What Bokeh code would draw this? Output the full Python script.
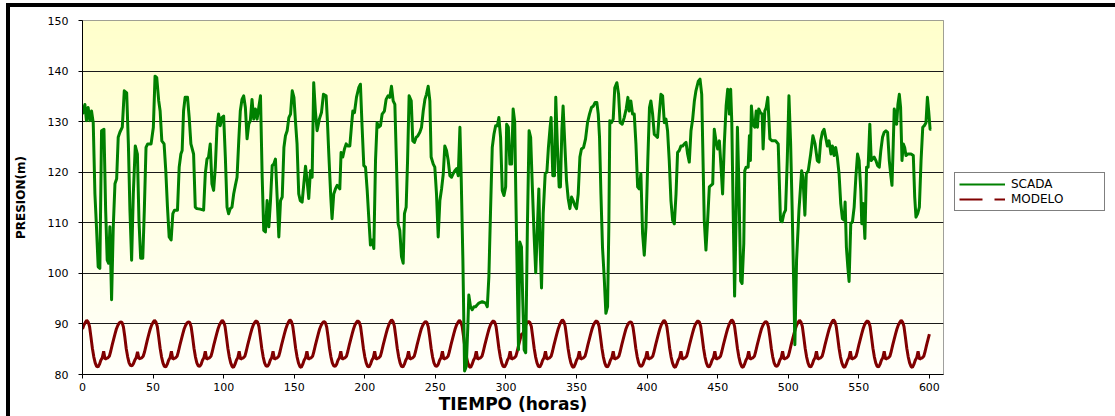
import numpy as np
from bokeh.plotting import figure
from bokeh.layouts import row
from bokeh.models import Legend, LegendItem, FixedTicker, Range1d
from bokeh.embed import file_html
from bokeh.resources import INLINE

# ---------------- data ----------------
X_TICKS = list(range(0, 601, 50))
Y_TICKS = list(range(80, 151, 10))
X_MIN, X_MAX = 0, 610
Y_MIN, Y_MAX = 80, 150

SCADA_H = [
    0, 1.7, 2.8, 4, 5.2, 6.4, 7.6, 8.8, 9.9, 11.1, 12.3, 13.5, 15.2, 16.4, 17.5, 18.5, 19.4, 20.6, 21.8, 23,
    24.2, 25.3, 26.5, 28.2, 29.6, 31.3, 32.5, 33.6, 34.8, 36, 37.4, 38.9, 40, 41.2, 42.7, 43.8, 45, 46.2, 48.6,
    50.2, 51.4, 52.6, 54, 55, 56.2, 57.8, 59, 60.2, 61.4, 62.8, 64, 65.2, 67.3, 68.5, 69.7, 70.6, 71.6, 72.7,
    74.4, 75.6, 76.8, 78.7, 79.9, 81, 83.4, 85.8, 87, 88.2, 89.3, 90.5, 91.7, 92.9, 94.1, 95.3, 96.4, 97.6,
    98.8, 100, 101.2, 102.4, 103.5, 104.7, 105.9, 107.1, 108.3, 109.5, 110.7, 111.8, 113, 114.2, 115.4, 116.6,
    117.8, 118.9, 120.1, 121.3, 122.5, 123.7, 124.9, 126.1, 127.3, 128.4, 129.6, 130.8, 132, 133.2, 134.4,
    135.5, 136.7, 137.9, 139.1, 140.3, 141.5, 142.7, 143.8, 145, 146.2, 147.4, 148.6, 149.8, 150.9, 152, 153.2,
    154.3, 155.6, 156.8, 158, 159.1, 160.3, 161.5, 162.7, 163.8, 165, 166.2, 167.8, 169.3, 170.7, 172.6, 173.5,
    174.5, 175.9, 176.8, 178, 179.2, 180.4, 182.3, 183.2, 184.4, 185.6, 186.8, 187.9, 189.4, 190.5, 191.5,
    192.7, 194.1, 195.7, 196.9, 198.1, 199.3, 200.5, 201.7, 202.8, 204, 205.2, 206.4, 207.6, 208.7, 209.9,
    211.1, 212.3, 213.9, 215.1, 216.5, 217.7, 218.9, 220.1, 221.3, 222.4, 223.6, 224.8, 226, 227.2, 228.1,
    229.3, 230.3, 231.4, 232.9, 234, 235.2, 236.4, 237.6, 239, 240.2, 241.4, 242.6, 243.7, 244.9, 246.1, 247,
    248.5, 249.6, 250.8, 252, 253.2, 254.4, 255.6, 256.7, 257.9, 259.1, 260.3, 261.5, 262.6, 263.8, 265, 266.2,
    267.4, 268.3, 269.5, 270.7, 271.9, 273, 273.7, 274.9, 276.1, 277.3, 278.5, 279.7, 280.8, 283.2, 285.6,
    286.8, 287.9, 289.1, 290.3, 291.5, 292.7, 293.9, 295, 296.2, 297.4, 298.6, 299.8, 300.5, 301.7, 302.8, 304,
    305.1, 306.2, 307, 308.2, 308.9, 309.8, 311, 311.9, 312.9, 314, 315.2, 316.4, 317.5, 318.7, 319.9, 321.1,
    322.3, 323.3, 324.2, 325.2, 326.4, 327.8, 329, 330.1, 331.3, 332, 333.2, 334.4, 335.3, 336.5, 337.7, 338.6,
    339.6, 340.5, 341.7, 342.9, 344.1, 345.3, 346.5, 347.6, 348.8, 350, 351.2, 352.4, 353.5, 355, 356.4, 357.8,
    359.2, 360.6, 362, 363.2, 364.4, 365.4, 366.3, 367.3, 368.4, 369.6, 370.8, 372, 372.9, 373.6, 374.8, 376,
    377.1, 378.6, 379.8, 380.9, 382.4, 383.8, 385.2, 386.4, 387.3, 388.5, 389.7, 390.9, 392.1, 393.3, 394.4,
    395.6, 396.8, 398, 399.2, 400.5, 401.7, 402.7, 403.9, 405.1, 406.3, 407.4, 408.6, 409.8, 411, 412.2, 413.4,
    414.5, 415.7, 416.9, 418.1, 419.3, 420.5, 421.6, 422.8, 424, 425.2, 426.4, 427.6, 428.7, 429.9, 431.1,
    432.3, 433.5, 434.6, 436.3, 437.5, 438.7, 439.4, 440.5, 441.7, 442.9, 444.1, 445.3, 446.5, 447.6, 448.8,
    450, 451.2, 452.4, 453.5, 454.7, 456, 457.1, 458.3, 459.2, 460, 461, 462, 463, 464, 465, 466.3, 467.3,
    468.5, 469.2, 470.1, 471.6, 472.5, 473.2, 473.9, 474.9, 476.3, 477.3, 478.2, 479.1, 480.3, 481.5, 482.2,
    483.4, 484.4, 485.5, 487, 488.6, 491, 492.9, 494.5, 495.7, 496.9, 498.1, 499.3, 500.5, 501.7, 502.8, 504,
    504.7, 505.9, 507.6, 509.5, 510.4, 511.8, 512.8, 514.2, 515.9, 517.5, 519, 520.6, 521.8, 523, 524.2, 525.4,
    526.5, 527.7, 528.9, 530.3, 531.3, 532.5, 533.6, 534.8, 536, 537.2, 538.4, 539.6, 540.3, 541.2, 542.2,
    543.1, 544.3, 545.5, 546.7, 547.9, 549.1, 550.2, 551.4, 552.1, 553.1, 554.3, 555.5, 556.6, 557.8, 558.8,
    559.7, 560.9, 562.1, 563.3, 564.5, 565.6, 566.8, 568, 569.2, 570.4, 571.6, 572.7, 573.5, 574.4, 575.1,
    575.8, 576.8, 577.7, 578.7, 579.6, 580.6, 581.5, 582.5, 583.4, 584.6, 587, 588.6, 589.6, 590.5, 591.7,
    592.9, 594.1, 595.3, 596.4, 597.6, 598.6, 599.5, 600.5, 601.4,
]
SCADA_V = [
    131.5, 133.4, 130.2, 132.8, 130.2, 132.1, 129.8, 115.7, 109.2, 101.3, 101, 128.2, 128.5, 112.5, 102.6, 102, 109.2, 94.8, 109.2, 117.7,
    118.7, 126.9, 127.9, 128.9, 136.1, 135.7, 125.6, 112.5, 102.6, 115.7, 125.2, 123.6, 110.5, 103, 103, 112.5, 124.9, 125.6, 125.6,
    128.9, 139, 138.7, 134.1, 132.1, 126.2, 125.6, 120.3, 113.1, 107.2, 106.6, 111.8, 112.5, 112.5, 121, 123.6, 124.3, 132.1, 134.8,
    134.8, 130.8, 125.6, 123.6, 113.1, 112.8, 112.7, 112.5, 119.7, 122.6, 123, 125.6, 117.7, 116.4, 121, 128.9, 131.5, 129.2,
    130.8, 131.1, 123, 113.1, 111.8, 112.8, 113.1, 115.7, 117.4, 119, 126.2, 132.1, 134.4, 135.1, 132.8, 126.6,
    129.5, 130.2, 134.4, 130.5, 132.5, 130.5, 132.8, 135.1, 119, 108.5, 108.2, 114.4, 109.2, 114.4, 121.3,
    121.6, 122.6, 115.1, 107.2, 114.4, 115.1, 124.9, 127.2, 128.2, 130.8, 131.5, 136.1, 134.8, 130, 125.6, 115.7,
    114.4, 114.1, 117.7, 121.2, 118.4, 114.8, 120.3, 119, 137.7, 132.1, 128.2, 130.5, 131.8, 135.4, 135.1, 130.2,
    123.6, 115.1, 110.8, 115.7, 116.7, 117.4, 116.7, 123.9, 123, 124.6, 125.6, 125.2, 125.2, 128.9, 132.1,
    131.8, 134.8, 136.7, 137.4, 128.9, 121.3, 121, 116.4, 111.1, 105.6, 106.6, 104.9, 122.3, 129.8, 128.9,
    129.2, 131.5, 132.1, 134.4, 135.1, 134.8, 137, 134.1, 133.4, 122.3, 109.8, 108.5, 103.3, 102, 111.8,
    113.1, 122.3, 135.1, 134.1, 126.2, 125.9, 126.9, 127.2, 127.9, 128.9, 132.1, 134.4, 135.4, 137, 134.1, 123,
    121.6, 121, 115.7, 107.2, 114.4, 116.7, 119.7, 125.2, 124.3, 122.3, 119.3, 119, 119.7, 120.3, 120.7, 119.3,
    128.9, 119, 102.6, 80.7, 81.6, 89.5, 95.7, 93.4, 92.8, 93.4, 93.4, 93.8, 94.1, 94.4, 94.1,
    93.4, 99.3, 112.5, 124.9, 127.5, 129.2, 129.2, 130.8, 126.9, 116.4, 115.4, 117.1, 129.5, 128.9, 121.6, 121.6,
    132.5, 130, 115.7, 96, 84.9, 106.2, 105.2, 94.8, 84.9, 84.3, 109.2, 128.2, 126.9, 117.1, 107.9, 100.1,
    109.2, 116.7, 105.2, 97.1, 111.8, 119.7, 120, 124.9, 128.9, 130.8, 119.3, 119.3, 134.8, 124.9, 117.1, 117.1,
    128.2, 133.1, 125.6, 118.4, 114.8, 112.8, 115.1, 114.4, 113.4, 112.8, 115.7, 123, 124.6, 124.9, 126.6, 129.8,
    131.5, 132.8, 133.1, 133.8, 133.8, 131.5, 126.9, 115.7, 105.2, 99.3, 92.1, 93.4, 109.2, 130.2, 129.8, 130.5,
    136.7, 137.7, 135.4, 129.8, 129.5, 130.8, 132.5, 134.8, 132.1, 134.1, 131.5, 131.5, 125.6, 117.1, 116.7,
    119.7, 107.9, 103.6, 109.2, 122.3, 132.8, 134.1, 131.5, 127.5, 127.2, 126.9, 131.5, 135.4, 135.1, 129.8, 130.5,
    128.2, 122.3, 114.4, 110.5, 109.8, 115.7, 123.9, 124.3, 125.2, 125.2, 125.6, 125.9, 123.6, 122, 128.2,
    130.5, 134.1, 136.1, 138, 138.4, 135.4, 125.6, 110.5, 104.6, 110.5, 117.1, 117.4, 117.7, 128.5, 126.2,
    124.6, 126.2, 121, 115.7, 125.6, 133.1, 136.4, 131.5, 136.4, 130, 112, 95.5, 110, 128.9, 118, 98.5, 98,
    105.9, 120.3, 121, 121, 127.2, 122.3, 133.1, 129.5, 128.9, 132.1, 128.9, 132.5, 131.8, 131.5, 124.6,
    132.1, 132.8, 134.8, 126.6, 126.2, 126.2, 125.6, 110.5, 110.2, 111.8, 112.5, 122.3, 135.1, 125.6, 112.5, 96.1,
    85.9, 102.6, 112.5, 120.3, 119, 111.5, 119.7, 120.3, 123.6, 127.2, 125.6, 122.3, 122, 126.2, 127.9, 128.5,
    126.9, 125.2, 126.2, 123.6, 125.2, 123.3, 124.9, 122.9, 119.7, 113.8, 110.8, 110.5, 114.1, 105.2, 101.3,
    98.4, 109.8, 110.2, 113.1, 119, 123.6, 122.3, 116.4, 109.8, 113.8, 106.9, 121, 121, 129.5, 122.3,
    122.6, 123, 122.3, 121.3, 121, 124.3, 126.9, 127.9, 128.2, 127.9, 122.3, 119.3, 117.4, 125.6, 132.5,
    131.5, 129.5, 133.4, 135.4, 132.8, 122.3, 125.6, 124.9, 123.3, 123.6, 123.6, 123.3, 115.1, 111.1, 111.8,
    113.1, 122.3, 128.9, 129.2, 129.8, 134.8, 132.1, 128.5, 128.5,
]

# MODELO: one row per day (24 hourly values)
MODELO_DAYS = [
    [89.0, 89.8, 90.3, 90.7, 90.4, 89.5, 87.4, 85.2, 83.5, 82.3, 81.6, 81.5, 82.0, 82.8, 83.3, 84.6, 83.0, 83.2, 83.3, 83.6, 84.6, 85.8, 86.9, 88.0],
    [89.0, 89.7, 90.2, 90.4, 90.3, 89.4, 87.4, 85.1, 83.5, 82.3, 81.8, 81.7, 82.1, 82.8, 83.3, 84.5, 83.1, 83.2, 83.3, 83.6, 84.5, 85.7, 86.9, 88.0],
    [89.0, 89.8, 90.3, 90.7, 90.4, 89.5, 87.4, 85.2, 83.5, 82.3, 81.6, 81.5, 82.0, 82.8, 83.3, 84.6, 83.0, 83.2, 83.3, 83.6, 84.6, 85.8, 86.9, 88.0],
    [89.0, 89.7, 90.2, 90.4, 90.3, 89.4, 87.4, 85.2, 83.5, 82.3, 81.7, 81.6, 82.0, 82.8, 83.3, 84.6, 83.0, 83.2, 83.3, 83.6, 84.6, 85.8, 86.9, 88.0],
    [89.0, 89.8, 90.3, 90.7, 90.4, 89.5, 87.4, 85.2, 83.5, 82.3, 81.6, 81.4, 82.0, 82.8, 83.3, 84.6, 83.0, 83.2, 83.3, 83.6, 84.6, 85.8, 86.9, 88.0],
    [89.0, 89.8, 90.3, 90.6, 90.4, 89.5, 87.4, 85.2, 83.5, 82.3, 81.7, 81.6, 82.0, 82.8, 83.3, 84.6, 83.0, 83.2, 83.3, 83.6, 84.6, 85.8, 86.9, 88.0],
    [89.0, 89.8, 90.4, 90.8, 90.5, 89.5, 87.4, 85.2, 83.5, 82.3, 81.6, 81.4, 82.0, 82.8, 83.3, 84.6, 83.0, 83.2, 83.3, 83.6, 84.6, 85.8, 86.9, 88.0],
    [89.0, 89.7, 90.2, 90.5, 90.3, 89.4, 87.4, 85.2, 83.5, 82.3, 81.7, 81.6, 82.0, 82.8, 83.3, 84.6, 83.0, 83.2, 83.3, 83.6, 84.6, 85.8, 86.9, 88.0],
    [89.0, 89.8, 90.3, 90.6, 90.4, 89.5, 87.4, 85.2, 83.5, 82.3, 81.6, 81.5, 82.0, 82.8, 83.3, 84.6, 83.0, 83.2, 83.3, 83.6, 84.6, 85.8, 86.9, 88.0],
    [89.0, 89.8, 90.4, 90.8, 90.5, 89.5, 87.4, 85.2, 83.5, 82.3, 81.6, 81.5, 82.0, 82.8, 83.3, 84.6, 83.0, 83.2, 83.3, 83.6, 84.6, 85.8, 86.9, 88.0],
    [89.0, 89.7, 90.2, 90.5, 90.3, 89.4, 87.4, 85.2, 83.5, 82.3, 81.7, 81.6, 82.0, 82.8, 83.3, 84.6, 83.0, 83.2, 83.3, 83.6, 84.6, 85.8, 86.9, 88.0],
    [89.0, 89.8, 90.3, 90.7, 90.4, 89.5, 87.4, 85.2, 83.5, 82.3, 81.6, 81.4, 82.0, 82.8, 83.3, 84.6, 83.0, 83.2, 83.3, 83.6, 84.6, 85.8, 86.9, 88.0],
    [89.0, 89.8, 90.3, 90.6, 90.4, 89.5, 87.4, 85.2, 83.5, 82.3, 81.6, 81.5, 82.0, 82.8, 83.3, 84.6, 83.0, 83.2, 83.3, 83.6, 84.6, 85.8, 86.9, 88.0],
    [88.0, 89.0, 89.8, 90.3, 90.5, 90.3, 89.5, 87.4, 85.2, 83.5, 82.3, 81.6, 81.5, 82.0, 82.8, 83.3, 84.6, 83.0, 83.2, 83.3, 83.6, 84.6, 85.8, 86.9],
    [88.0, 89.0, 89.8, 90.4, 90.8, 90.5, 89.5, 87.4, 85.2, 83.5, 82.3, 81.6, 81.4, 82.0, 82.8, 83.3, 84.6, 83.0, 83.2, 83.3, 83.6, 84.6, 85.8, 86.9],
    [88.0, 89.0, 89.8, 90.3, 90.6, 90.4, 89.5, 87.4, 85.2, 83.5, 82.3, 81.6, 81.5, 82.0, 82.8, 83.3, 84.6, 83.0, 83.2, 83.3, 83.6, 84.6, 85.8, 86.9],
    [88.0, 89.0, 89.7, 90.2, 90.4, 90.3, 89.4, 87.4, 85.2, 83.5, 82.3, 81.7, 81.6, 82.0, 82.8, 83.3, 84.6, 83.0, 83.2, 83.3, 83.6, 84.6, 85.8, 86.9],
    [88.0, 89.0, 89.8, 90.3, 90.7, 90.4, 89.5, 87.4, 85.2, 83.5, 82.3, 81.6, 81.4, 82.0, 82.8, 83.3, 84.6, 83.0, 83.2, 83.3, 83.6, 84.6, 85.8, 86.9],
    [88.0, 89.0, 89.8, 90.3, 90.6, 90.4, 89.5, 87.4, 85.2, 83.5, 82.3, 81.6, 81.5, 82.0, 82.8, 83.3, 84.6, 83.0, 83.2, 83.3, 83.6, 84.6, 85.8, 86.9],
    [88.0, 89.0, 89.8, 90.4, 90.8, 90.5, 89.5, 87.4, 85.2, 83.5, 82.3, 81.6, 81.4, 82.0, 82.8, 83.3, 84.6, 83.0, 83.2, 83.3, 83.6, 84.6, 85.8, 86.9],
    [88.0, 89.0, 89.7, 90.2, 90.5, 90.3, 89.4, 87.4, 85.2, 83.5, 82.3, 81.7, 81.6, 82.0, 82.8, 83.3, 84.6, 83.0, 83.2, 83.3, 83.6, 84.6, 85.8, 86.9],
    [88.0, 89.0, 89.8, 90.3, 90.7, 90.4, 89.5, 87.4, 85.2, 83.5, 82.3, 81.6, 81.5, 82.0, 82.8, 83.3, 84.6, 83.0, 83.2, 83.3, 83.6, 84.6, 85.8, 86.9],
    [88.0, 89.0, 89.8, 90.4, 90.8, 90.5, 89.5, 87.4, 85.2, 83.5, 82.3, 81.6, 81.4, 82.0, 82.8, 83.3, 84.6, 83.0, 83.2, 83.3, 83.6, 84.6, 85.8, 86.9],
    [88.0, 89.0, 89.8, 90.3, 90.6, 90.4, 89.5, 87.4, 85.2, 83.5, 82.3, 81.6, 81.5, 82.0, 82.8, 83.3, 84.6, 83.0, 83.2, 83.3, 83.6, 84.6, 85.8, 86.9],
    [88.0, 89.0, 89.8, 90.3, 90.7, 90.4, 89.5, 87.4, 85.2, 83.5, 82.3, 81.6, 81.4, 82.0, 82.8, 83.3, 84.6, 83.0, 83.2, 83.3, 83.6, 84.6, 85.8, 86.9],
]
MODELO_LAST = 88.0

MODELO_V = [v for row_ in MODELO_DAYS for v in row_] + [MODELO_LAST]
MODELO_H = list(range(len(MODELO_V)))

SERIES_NAMES = ["SCADA", "MODELO"]

# ---------------- main figure ----------------
p = figure(width=934, height=409,
           x_range=Range1d(X_MIN, X_MAX), y_range=Range1d(Y_MIN, Y_MAX),
           output_backend="svg", toolbar_location=None,
           min_border_left=72, min_border_right=1,
           min_border_top=13, min_border_bottom=41,
           background_fill_color="white", border_fill_color="white")

# vertical gradient background of plot area (light yellow -> near white)
n = 140
img = np.empty((n, 1), dtype=np.uint32)
view = img.view(dtype=np.uint8).reshape((n, 1, 4))
t = np.linspace(0, 1, n)  # 0 bottom, 1 top
view[:, 0, 0] = 255
view[:, 0, 1] = 255
view[:, 0, 2] = (250 - 46 * t).astype(np.uint8)
view[:, 0, 3] = 255
p.image_rgba(image=[img], x=X_MIN, y=Y_MIN, dw=X_MAX - X_MIN, dh=Y_MAX - Y_MIN, level="image")

p.line(MODELO_H, MODELO_V, line_color="#800000", line_width=3)
p.line(SCADA_H, SCADA_V, line_color="#008000", line_width=3, line_join="round")

p.outline_line_color = "#808080"
p.outline_line_width = 1

p.xgrid.visible = False
p.ygrid.ticker = FixedTicker(ticks=Y_TICKS)
p.ygrid.grid_line_color = "#1a1a1a"
p.ygrid.grid_line_width = 1

p.xaxis.ticker = FixedTicker(ticks=X_TICKS)
p.yaxis.ticker = FixedTicker(ticks=Y_TICKS)
for ax in (p.xaxis[0], p.yaxis[0]):
    ax.axis_line_color = "black"
    ax.axis_line_width = 1
    ax.major_tick_line_color = "black"
    ax.major_tick_out = 4
    ax.major_tick_in = 0
    ax.minor_tick_line_color = None
    ax.major_label_text_font = "DejaVu Sans"
    ax.major_label_text_font_size = "11px"
    ax.major_label_text_color = "black"
    ax.axis_label_text_font = "DejaVu Sans"
    ax.axis_label_text_font_style = "bold"
    ax.axis_label_text_color = "black"

p.xaxis.axis_label = "TIEMPO (horas)"
p.xaxis.axis_label_text_font_size = "17px"
p.xaxis.major_label_standoff = 4
p.xaxis.axis_label_standoff = 0

p.yaxis.axis_label = "PRESION(m)"
p.yaxis.axis_label_text_font_size = "12px"
p.yaxis.major_label_standoff = 10
p.yaxis.axis_label_standoff = 17

# ---------------- legend panel ----------------
q = figure(width=171, height=409, x_range=Range1d(0, 1), y_range=Range1d(0, 1),
           x_axis_location=None, y_axis_location=None,
           output_backend="svg", toolbar_location=None,
           min_border_left=0, min_border_right=0, min_border_top=0, min_border_bottom=0,
           background_fill_color="white", border_fill_color="white")
q.grid.visible = False
q.outline_line_color = None
NAN = float("nan")
leg_scada = q.line([0, 1], [NAN, NAN], line_color="#008000", line_width=2)
leg_modelo = q.line([0, 1], [NAN, NAN], line_color="#800000", line_width=2, line_dash="23 12")

legend = Legend(items=[LegendItem(label=SERIES_NAMES[0], renderers=[leg_scada]),
                       LegendItem(label=SERIES_NAMES[1], renderers=[leg_modelo])],
                location=(10, 163), orientation="vertical",
                border_line_color="black", border_line_width=1,
                background_fill_color="white", background_fill_alpha=1,
                label_text_font="DejaVu Sans", label_text_font_size="12px",
                label_text_color="black",
                glyph_width=46, glyph_height=12, label_height=12, label_width=89,
                spacing=1, padding=4, label_standoff=6, margin=0)
q.add_layout(legend, "center")

layout = row(p, q, spacing=0)
layout.styles = {"margin-left": "6px", "margin-top": "3px",
                 "border-left": "4px solid black", "border-top": "4px solid black"}

open("out.html", "w").write(file_html(layout, INLINE))
